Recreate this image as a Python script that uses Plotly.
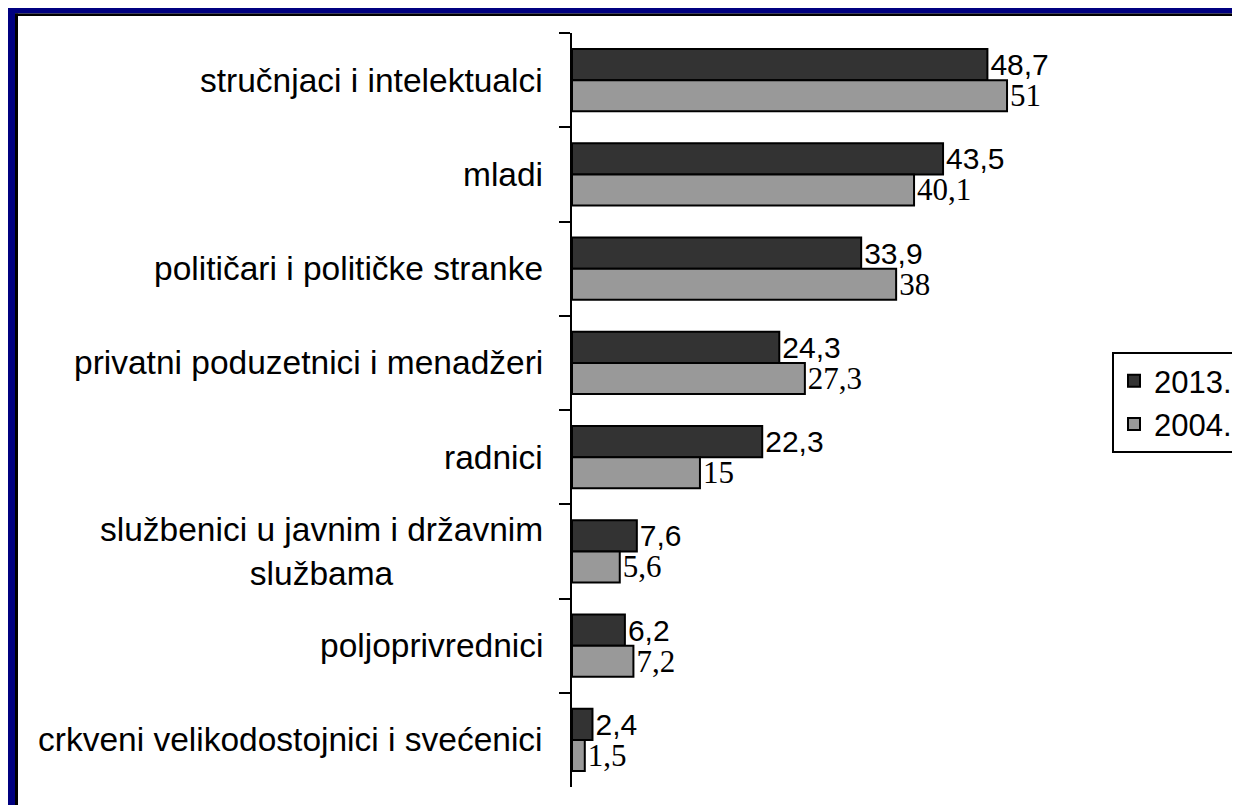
import plotly.graph_objects as go

categories = [
    "stručnjaci i intelektualci",
    "mladi",
    "političari i političke stranke",
    "privatni poduzetnici i menadžeri",
    "radnici",
    "službenici u javnim i državnim<br>službama",
    "poljoprivrednici",
    "crkveni velikodostojnici i svećenici",
]
series_names = ["2013.", "2004."]
values_2013 = [48.7, 43.5, 33.9, 24.3, 22.3, 7.6, 6.2, 2.4]
values_2004 = [51, 40.1, 38, 27.3, 15, 5.6, 7.2, 1.5]

# page body has an 8px margin; figure coordinates are page coordinates minus 8
OFF = 8
W, H = 1240 - OFF, 805 - OFF
L, R, T, B = 572 - OFF, 1100 - OFF, 33 - OFF, 787 - OFF
xmax = (R - L) / 8.53


def fmt(v):
    return ("%g" % v).replace(".", ",")


fig = go.Figure()
fig.add_trace(go.Bar(
    y=categories, x=values_2013, orientation="h", name=series_names[0],
    marker=dict(color="#333333", line=dict(color="#000000", width=2)),
    text=[fmt(v) for v in values_2013], textposition="outside",
    textfont=dict(family="Liberation Sans, Arial", size=30, color="#000000"),
    constraintext="none", cliponaxis=False,
))
fig.add_trace(go.Bar(
    y=categories, x=values_2004, orientation="h", name=series_names[1],
    marker=dict(color="#999999", line=dict(color="#000000", width=2)),
    text=[fmt(v) for v in values_2004], textposition="outside",
    textfont=dict(family="Liberation Serif, Times New Roman", size=31, color="#000000"),
    constraintext="none", cliponaxis=False,
))

annotations = []
for c in categories:
    annotations.append(dict(
        x=-27 / (R - L), xref="paper", y=c, yref="y", text=c, showarrow=False,
        xanchor="right", yanchor="middle", align="center",
        font=dict(family="Liberation Sans, Arial", size=33.5, color="#000000"),
    ))


def px(x):
    return (x - OFF - L) / (R - L)


def py(y):
    return (B - (y - OFF)) / (B - T)


# frame (page coords)
shapes = [
    dict(type="rect", xref="paper", yref="paper", x0=px(OFF), x1=px(1240), y0=py(OFF), y1=py(OFF + 5.5),
         fillcolor="#000080", line=dict(width=0), layer="above"),
    dict(type="rect", xref="paper", yref="paper", x0=px(OFF), x1=px(OFF + 7), y0=py(OFF), y1=py(805),
         fillcolor="#000080", line=dict(width=0), layer="above"),
    dict(type="rect", xref="paper", yref="paper", x0=px(OFF + 7), x1=px(1240), y0=py(OFF + 5.5), y1=py(OFF + 8),
         fillcolor="#000000", line=dict(width=0), layer="above"),
    dict(type="rect", xref="paper", yref="paper", x0=px(OFF + 7), x1=px(OFF + 10), y0=py(OFF + 5.5), y1=py(805),
         fillcolor="#000000", line=dict(width=0), layer="above"),
]

fig.update_layout(
    width=W, height=H,
    margin=dict(l=L, r=W - R, t=T, b=H - B, pad=0, autoexpand=False),
    paper_bgcolor="#ffffff", plot_bgcolor="#ffffff",
    barmode="group", bargap=0.34, bargroupgap=0,
    showlegend=True,
    legend=dict(
        x=px(1112), y=py(352), xanchor="left", yanchor="top",
        bordercolor="#000000", borderwidth=2, bgcolor="#ffffff",
        font=dict(family="Liberation Sans, Arial", size=31, color="#000000"),
        traceorder="normal", itemsizing="constant", tracegroupgap=0,
        itemwidth=30,
    ),
    xaxis=dict(range=[0, xmax], visible=False, fixedrange=True),
    yaxis=dict(
        autorange="reversed", showticklabels=False, showline=True,
        linecolor="#000000", linewidth=2, ticks="outside", ticklen=11,
        tickwidth=2, tickcolor="#000000", tickson="boundaries",
        showgrid=False, zeroline=False,
    ),
    annotations=annotations,
    shapes=shapes,
)

fig.write_html("out.html")
